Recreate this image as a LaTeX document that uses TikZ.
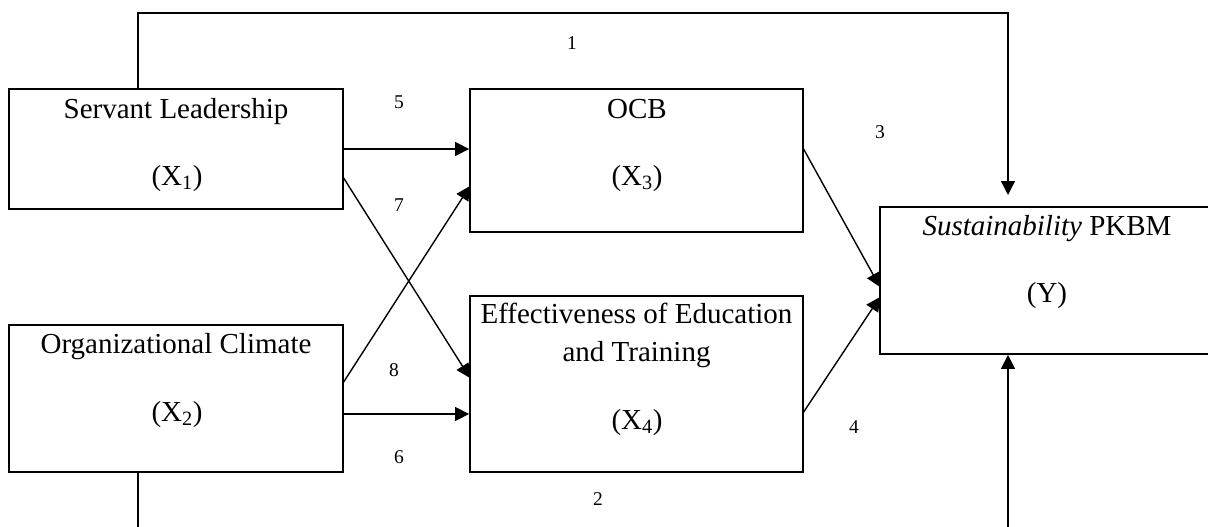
\documentclass[tikz,border=0pt]{standalone}
\usepackage{fontspec}
\setmainfont{Liberation Serif}
\usetikzlibrary{arrows.meta}
\tikzset{
  box/.style={draw=black, line width=1.8pt, rectangle, inner sep=0pt},
  boxtext/.style={anchor=base, inner sep=0pt, font=\fontsize{29}{35}\selectfont},
  numlabel/.style={anchor=base, inner sep=0pt, font=\fontsize{19.5}{23}\selectfont},
  conn/.style={line width=1.4pt, draw=black},
  arr/.style={conn, -{Triangle[length=14pt,width=14pt]}}
}
\begin{document}
\begin{tikzpicture}[x=1pt,y=-1pt]
\useasboundingbox (0,0) rectangle (1208,527);
% boxes
\node[box, minimum width=334pt, minimum height=120pt] (x1) at (176,149) {};
\node[box, minimum width=334pt, minimum height=147pt] (x2) at (176,398.5) {};
\node[box, minimum width=333pt, minimum height=143pt] (x3) at (636.5,160.5) {};
\node[box, minimum width=333pt, minimum height=176pt] (x4) at (636.5,384) {};
\node[box, minimum width=334pt, minimum height=147pt] (y) at (1047,280.5) {};
% box texts
\node[boxtext] (t1a) at (176,118) {Servant Leadership};
\node[boxtext] (t1b) at (177,185) {(X\textsubscript{1})};
\node[boxtext] (t2a) at (176,353) {Organizational Climate};
\node[boxtext] (t2b) at (177,421) {(X\textsubscript{2})};
\node[boxtext] (t3a) at (637,118) {OCB};
\node[boxtext] (t3b) at (637,185) {(X\textsubscript{3})};
\node[boxtext] (t4a) at (636.5,323) {Effectiveness of Education};
\node[boxtext] (t4b) at (636.5,361) {and Training};
\node[boxtext] (t4c) at (637,429) {(X\textsubscript{4})};
\node[boxtext] (tya) at (1047,235) {\textit{Sustainability} PKBM};
\node[boxtext] (tyb) at (1047,302) {(Y)};
% number labels
\node[numlabel] (n1) at (572,50) {1};
\node[numlabel] (n2) at (598,505) {2};
\node[numlabel] (n3) at (880,138) {3};
\node[numlabel] (n4) at (854,433) {4};
\node[numlabel] (n5) at (399,109) {5};
\node[numlabel] (n6) at (399,463) {6};
\node[numlabel] (n7) at (399,211) {7};
\node[numlabel] (n8) at (394,376) {8};
% helper coordinates
\coordinate (tl) at (138,13);
\coordinate (tr) at (1008,13);
\coordinate (te) at (1008,195);
\coordinate (bl) at (138,527);
\coordinate (br) at (1008,527);
\coordinate (a7s) at (343,177);
\coordinate (a7e) at (470,378);
\coordinate (a8s) at (343,383);
\coordinate (a8e) at (470,186);
\coordinate (a6s) at (343,414);
\coordinate (a3s) at (803,148);
\coordinate (a3e) at (880,287);
\coordinate (a4s) at (803,413);
\coordinate (a4e) at (880,297);
% connectors
\draw[arr] (x1.north -| tl) -- (tl) -- (tr) -- (te);
\draw[conn] (x2.south -| bl) -- (bl);
\draw[arr] (br) -- (y.south -| br);
\draw[arr] (x1.east) -- (x1.east -| x3.west);
\draw[arr] (a7s) -- (a7e);
\draw[arr] (a8s) -- (a8e);
\draw[arr] (a6s) -- (a6s -| x4.west);
\draw[arr] (a3s) -- (a3e);
\draw[arr] (a4s) -- (a4e);
\end{tikzpicture}
\end{document}
